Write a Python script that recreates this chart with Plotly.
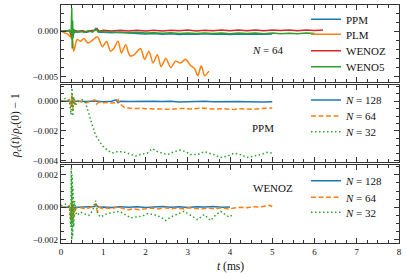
import plotly.graph_objects as go

# ---------------- data ----------------
# Panel 1: N = 64, four schemes
p1_ppm_t = [0, 0.1, 0.2, 0.25, 0.27, 0.29, 0.32, 0.4, 0.5, 0.6, 0.7, 0.8, 0.85, 0.9,
            1.0, 1.2, 1.4, 1.6, 1.8, 2.0, 2.2, 2.4, 2.6, 2.8, 3.0, 3.2, 3.4, 3.6, 3.8, 4.0,
            4.2, 4.4, 4.6, 4.8, 5.0]
p1_ppm_v = [0, 0, 0.00005, -0.0003, 0.0003, -0.0004, 0, -0.0001, 0, -0.0001, 0, 0.0001, 0.0003, -0.0001,
            -0.0001, -0.00015, -0.0001, -0.0002, -0.00025, -0.0003, -0.00025, -0.00032, -0.00028, -0.00035,
            -0.0003, -0.00034, -0.00028, -0.00033, -0.0003, -0.00036, -0.0003, -0.00034, -0.00029, -0.00033, -0.0003]

p1_plm_t = [0, 0.1, 0.15, 0.22, 0.27, 0.3, 0.34, 0.38, 0.46, 0.54,
            0.64, 0.74, 0.86, 0.98, 1.08, 1.17, 1.25, 1.35, 1.43, 1.53,
            1.63, 1.73, 1.88, 1.98, 2.08, 2.18, 2.28, 2.37, 2.48, 2.6,
            2.71, 2.83, 2.95, 3.07, 3.16, 3.24, 3.32, 3.40, 3.5]
p1_plm_v = [0, -0.0002, -0.0003, -0.0006, -0.0009, -0.0022, -0.0015, -0.0009, -0.0011, -0.0008,
            -0.0013, -0.001, -0.0006, -0.0017, -0.0011, -0.0022, -0.0019, -0.0011, -0.0024, -0.0015,
            -0.0027, -0.0026, -0.0019, -0.0031, -0.0022, -0.0035, -0.0026, -0.0039, -0.003, -0.004,
            -0.0033, -0.0035, -0.0031, -0.0038, -0.0041, -0.0049, -0.0038, -0.0049, -0.0044]

p1_wenoz_t = [0, 0.1, 0.2, 0.25, 0.27, 0.29, 0.32, 0.4, 0.5, 0.6, 0.7, 0.8, 0.85, 0.9,
              1.0, 1.2, 1.4, 1.6, 1.8, 2.0, 2.2, 2.4, 2.6, 2.8, 3.0, 3.2, 3.4, 3.6, 3.8, 4.0,
              4.2, 4.4, 4.6, 4.8, 5.0, 5.2, 5.4, 5.6, 5.8, 6.0, 6.2]
p1_wenoz_v = [0, 0, 0.0001, -0.0006, 0.0004, -0.0003, 0.0001, 0, 0.00005, -0.00005, 0.00005, 0.0001, 0.0003, 0.0,
              0.0001, 0.00002, 0.0001, 0.00003, 0.00012, 0.00002, 0.0001, 0.00004, 0.00012, 0.00005,
              0.00013, 0.00004, 0.00012, 0.00006, 0.00014, 0.00005, 0.00013, 0.00007, 0.00015, 0.00006,
              0.00014, 0.00008, 0.00015, 0.00007, 0.00014, 0.00009, 0.00013]

p1_weno5_t = [0, 0.1, 0.2, 0.24, 0.255, 0.265, 0.275, 0.285, 0.3, 0.35, 0.45, 0.55, 0.65, 0.75, 0.82, 0.88, 0.95,
              1.0, 1.2, 1.4, 1.6, 1.8, 2.0, 2.2, 2.4, 2.6, 2.8, 3.0, 3.2, 3.4, 3.6, 3.8, 4.0,
              4.2, 4.4, 4.6, 4.8, 5.0, 5.2, 5.4, 5.6, 5.8, 6.0]
p1_weno5_v = [0, 0, 0.0001, -0.0003, 0.0026, -0.0019, 0.0012, -0.0008, 0.0002, -0.0001, 0, -0.0001, 0.00005,
              -0.0001, 0.0003, -0.0001, 0,
              -0.00005, -0.0001, -0.00008, -0.00015, -0.0001, -0.0002, -0.00015, -0.00022, -0.00016, -0.00024,
              -0.00018, -0.00025, -0.00018, -0.00024, -0.0002, -0.00026, -0.0002, -0.00025, -0.00019, -0.00026,
              -0.0002, -0.00027, -0.00021, -0.00026, -0.0002, -0.00025]

# Panel 2: PPM at three resolutions
p2_n128_t = [0, 0.1, 0.2, 0.25, 0.27, 0.29, 0.32, 0.4, 0.6, 0.8, 1.0, 1.2, 1.3, 1.35, 1.4, 1.6,
             1.8, 2.0, 2.2, 2.4, 2.6, 2.8, 3.0, 3.2, 3.4, 3.6, 3.8, 4.0, 4.2, 4.4, 4.6, 4.8, 5.0]
p2_n128_v = [0, 0, 0, -0.0002, 0.0002, -0.0001, 0, 0, -0.00002, 0.00002, -0.00003, 0, 0.0001, -0.0001, 0, -0.00002,
             0, -0.00003, 0.00001, -0.00002, 0, -0.00004, -0.00001, -0.00003, 0, -0.00003, -0.00001, -0.00004,
             -0.00002, -0.00003, -0.00001, -0.00004, -0.00003]

p2_n64_t = [0, 0.1, 0.2, 0.24, 0.26, 0.28, 0.3, 0.33, 0.4, 0.5,
            0.6, 0.7, 0.8, 0.84, 0.9, 1.0, 1.1, 1.2, 1.3, 1.35,
            1.4, 1.45, 1.5, 1.6, 1.7, 1.8, 1.9, 2.0, 2.15, 2.3,
            2.45, 2.6, 2.75, 2.9, 3.05, 3.2, 3.35, 3.5, 3.65, 3.8,
            3.95, 4.1, 4.25, 4.4, 4.55, 4.7, 4.85, 5.0]
p2_n64_v = [0, 0, 0.0001, -0.0004, 0.0005, -0.0006, 0.0002, -0.0002, 0, -0.00005,
            -0.0001, 0, 0.0001, -0.0002, -0.00005, -0.0001, -0.00008, -0.00012, -0.0001, 0.0001,
            -0.0002, -0.0003, -0.00042, -0.00046, -0.0005, -0.00048, -0.00046, -0.0005, -0.00052, -0.00049,
            -0.00051, -0.00054, -0.0005, -0.00048, -0.00052, -0.00049, -0.00046, -0.0005, -0.00053, -0.0005,
            -0.00052, -0.00055, -0.0005, -0.00053, -0.00055, -0.0005, -0.00048, -0.00045]

p2_n32_t = [0, 0.1, 0.2, 0.24, 0.26, 0.28, 0.3, 0.33, 0.4, 0.5,
            0.58, 0.66, 0.74, 0.82, 0.9, 0.98, 1.1, 1.21, 1.33, 1.45,
            1.57, 1.69, 1.77, 1.88, 2.04, 2.16, 2.28, 2.4, 2.52, 2.68,
            2.83, 2.95, 3.07, 3.23, 3.39, 3.5, 3.62, 3.78, 3.94, 4.1,
            4.25, 4.41, 4.57, 4.72, 4.88, 5.0]
p2_n32_v = [0, 0.0002, 0, -0.0009, 0.0009, -0.0010, 0.0003, -0.0003, 0, 0.0001,
            -0.0001, -0.0009, -0.0016, -0.0023, -0.0027, -0.003, -0.0033, -0.0035, -0.0034, -0.0034,
            -0.0035, -0.0036, -0.0037, -0.0036, -0.0035, -0.0032, -0.0034, -0.0035, -0.0036, -0.0034,
            -0.0033, -0.0034, -0.0036, -0.0036, -0.0034, -0.0035, -0.0036, -0.0038, -0.0037, -0.0035,
            -0.0036, -0.0038, -0.0037, -0.0036, -0.00345, -0.0035]

# Panel 3: WENOZ at three resolutions
p3_n128_t = [0, 0.1, 0.2, 0.25, 0.27, 0.29, 0.32, 0.4, 0.6, 0.8, 0.85, 0.9,
             1.0, 1.2, 1.4, 1.6, 1.8, 2.0, 2.2, 2.4, 2.6, 2.8, 3.0, 3.2, 3.4, 3.6, 3.8, 4.0]
p3_n128_v = [0, 0, 0, -0.0002, 0.0002, -0.0001, 0, 0, 0.00002, 0.00005, 0.0001, 0,
             0.00002, -0.00002, 0.00003, 0, 0.00003, -0.00002, 0.00002, 0.00004, 0, 0.00003, -0.00001,
             0.00003, 0.00001, 0.00004, 0, 0.00002]

p3_n64_t = [0, 0.1, 0.2, 0.23, 0.25, 0.27, 0.29, 0.31, 0.34, 0.4,
            0.5, 0.6, 0.7, 0.78, 0.82, 0.86, 0.9, 1.0, 1.1, 1.2,
            1.35, 1.5, 1.6, 1.7, 1.85, 2.0, 2.15, 2.3, 2.45, 2.6,
            2.75, 2.9, 3.05, 3.2, 3.35, 3.5, 3.65, 3.8, 3.95, 4.1,
            4.25, 4.4, 4.55, 4.7, 4.85, 4.93, 5.0]
p3_n64_v = [0, 0, 0.0001, -0.0008, 0.0003, -0.0009, 0.0002, -0.0006, -0.0001, 0,
            -0.00005, -0.0001, 0, 0.0001, 0.0002, -0.0003, 0, -0.0001, -0.00005, -0.0001,
            0.00003, -0.0001, -0.00015, -0.0001, -0.00015, -0.0001, -0.00005, -0.0001, -0.00003, -0.0001,
            -0.00005, -0.0001, -0.00003, -0.00008, -0.0001, -0.00005, -0.0001, -0.00003, -0.0001, -0.00005,
            0, -0.00003, 0.00003, 0.00001, 0.0001, 0.00012, 0.00005]

p3_n32_t = [0, 0.1, 0.2, 0.23, 0.245, 0.255, 0.265, 0.275, 0.285, 0.3,
            0.32, 0.35, 0.38, 0.46, 0.55, 0.66, 0.75, 0.82, 0.87, 0.93,
            1.09, 1.25, 1.37, 1.49, 1.65, 1.77, 1.92, 2.04, 2.2, 2.36,
            2.48, 2.6, 2.75, 2.91, 3.07, 3.23, 3.39, 3.54, 3.67, 3.78,
            3.9, 3.98, 4.08]
p3_n32_v = [0.0001, 0.0002, 0, -0.0012, 0.0024, -0.002, 0.002, -0.0018, 0.0012, -0.0012,
            0.0004, -0.0003, -0.0005, -0.0003, -0.0004, -0.0005, -0.0002, 0.0004, -0.0004, -0.0006,
            -0.0004, -0.0003, -0.00025, -0.0004, -0.00066, -0.0006, -0.00055, -0.0004, -0.00045, -0.0006,
            -0.00082, -0.0006, -0.00045, -0.00025, -0.0005, -0.00076, -0.00045, -0.00082, -0.00045, -0.00025,
            -0.00048, -0.0006, -0.00045]

scheme_names = ["PPM", "PLM", "WENOZ", "WENO5"]
res_names = ["<i>N</i> = 128", "<i>N</i> = 64", "<i>N</i> = 32"]
panel_labels = ["<i>N</i> = 64", "PPM", "WENOZ"]
x_ticks = [0, 1, 2, 3, 4, 5, 6, 7, 8]

# ---------------- styling ----------------
BLUE, ORANGE, RED, GREEN = "#1f77b4", "#ff7f0e", "#d62728", "#2ca02c"
FONT = "Liberation Serif"
FRAME = "#333333"

fig = go.Figure()

def add(t, v, name, color, dash, xa, ya, leg, shape="linear"):
    fig.add_trace(go.Scatter(x=t, y=v, mode="lines", name=name, showlegend=True,
                             line=dict(color=color, width=1.5, dash=dash, shape=shape, smoothing=0.8),
                             xaxis=xa, yaxis=ya, legend=leg))

DASH = "5px,2.5px"
DOT = "1.5px,2.5px"

add(p1_ppm_t, p1_ppm_v, scheme_names[0], BLUE, "solid", "x", "y", "legend")
add(p1_plm_t, p1_plm_v, scheme_names[1], ORANGE, "solid", "x", "y", "legend2", shape="spline")
add(p1_wenoz_t, p1_wenoz_v, scheme_names[2], RED, "solid", "x", "y", "legend3")
add(p1_weno5_t, p1_weno5_v, scheme_names[3], GREEN, "solid", "x", "y", "legend4")

add(p2_n128_t, p2_n128_v, res_names[0], BLUE, "solid", "x2", "y2", "legend5")
add(p2_n64_t, p2_n64_v, res_names[1], ORANGE, DASH, "x2", "y2", "legend6")
add(p2_n32_t, p2_n32_v, res_names[2], GREEN, DOT, "x2", "y2", "legend7")

add(p3_n128_t, p3_n128_v, res_names[0], BLUE, "solid", "x3", "y3", "legend8")
add(p3_n64_t, p3_n64_v, res_names[1], ORANGE, DASH, "x3", "y3", "legend9")
add(p3_n32_t, p3_n32_v, res_names[2], GREEN, DOT, "x3", "y3", "legend10")

H_TOP, H_BOT = 5, 34
PLOT_H = 277 - H_TOP - H_BOT
def py2paper(py):
    return (277 - H_BOT - py) / PLOT_H

domains = [(py2paper(82), py2paper(5)), (py2paper(162), py2paper(85)), (py2paper(243), py2paper(165))]

def xaxis(dom_anchor, show):
    return dict(range=[0, 8], tickvals=x_ticks, showticklabels=show, ticks="inside", ticklen=5,
                tickwidth=1, tickcolor=FRAME, mirror="allticks", showline=True, linecolor=FRAME,
                linewidth=1.3, showgrid=False, zeroline=False, anchor=dom_anchor,
                ticklabeloverflow="allow",
                minor=dict(dtick=0.25, ticks="inside", ticklen=2.5, tickcolor=FRAME, tickwidth=0.8),
                tickfont=dict(family=FONT, size=9, color="#111"))

def yaxis(rng, dtick, mdtick, dom):
    return dict(range=rng, dtick=dtick, tick0=0, tickformat=".3f", ticks="inside", ticklen=5,
                tickwidth=1, tickcolor=FRAME, mirror="allticks", showline=True, linecolor=FRAME,
                linewidth=1.3, showgrid=False, zeroline=False, domain=dom,
                minor=dict(dtick=mdtick, tick0=0, ticks="inside", ticklen=2.5, tickcolor=FRAME, tickwidth=0.8),
                tickfont=dict(family=FONT, size=9, color="#111"))

layout = dict(
    width=407, height=277,
    margin=dict(l=61, r=8, t=H_TOP, b=H_BOT),
    paper_bgcolor="white", plot_bgcolor="white",
    showlegend=True,
    font=dict(family=FONT, size=11, color="#111"),
    xaxis=xaxis("y", False), xaxis2=xaxis("y2", False), xaxis3=xaxis("y3", True),
    yaxis=yaxis([-0.0056, 0.0029], 0.005, 0.001, domains[0]),
    yaxis2=yaxis([-0.0041, 0.0011], 0.002, 0.0005, domains[1]),
    yaxis3=yaxis([-0.0022, 0.0026], 0.002, 0.0005, domains[2]),
)
layout["xaxis2"]["matches"] = "x"
layout["xaxis3"]["matches"] = "x"

leg_rows = [19.3, 34.3, 50.7, 66.7, 100, 116, 131.7, 180.7, 197.3, 212.3]
LEG_X = (306 - 61) / 338
for i, py in enumerate(leg_rows):
    key = "legend" if i == 0 else f"legend{i + 1}"
    layout[key] = dict(x=LEG_X, xanchor="left", y=py2paper(py), yanchor="middle",
                       bgcolor="rgba(0,0,0,0)", borderwidth=0,
                       font=dict(family=FONT, size=11, color="#111"),
                       itemwidth=30, tracegroupgap=0)

fig.update_layout(**layout)

# panel labels
fig.add_annotation(x=4.9, y=-0.0021, xref="x", yref="y", text=panel_labels[0], showarrow=False,
                   xanchor="center", yanchor="middle", font=dict(family=FONT, size=11, color="#111"))
fig.add_annotation(x=4.78, y=-0.0018, xref="x2", yref="y2", text=panel_labels[1], showarrow=False,
                   xanchor="center", yanchor="middle", font=dict(family=FONT, size=11, color="#111"))
fig.add_annotation(x=5.02, y=0.0012, xref="x3", yref="y3", text=panel_labels[2], showarrow=False,
                   xanchor="center", yanchor="middle", font=dict(family=FONT, size=11, color="#111"))

# axis titles
fig.add_annotation(x=(16 - 61) / 338, y=py2paper(125), xref="paper", yref="paper",
                   xanchor="center", yanchor="middle",
                   text="<i>ρ</i><sub><i>c</i></sub>(<i>t</i>)/<i>ρ</i><sub><i>c</i></sub>(0) − 1",
                   textangle=-90, showarrow=False, font=dict(family=FONT, size=11.5, color="#111"))
fig.add_annotation(x=0.5, y=py2paper(266), xref="paper", yref="paper",
                   xanchor="center", yanchor="middle",
                   text="<i>t</i> (ms)", showarrow=False, font=dict(family=FONT, size=11.5, color="#111"))

# remove the browser's default 8px body margin so the figure sits at the window's corner
fig.write_html("out.html", config={"displayModeBar": False},
               post_script="document.body.style.margin='0px';")
